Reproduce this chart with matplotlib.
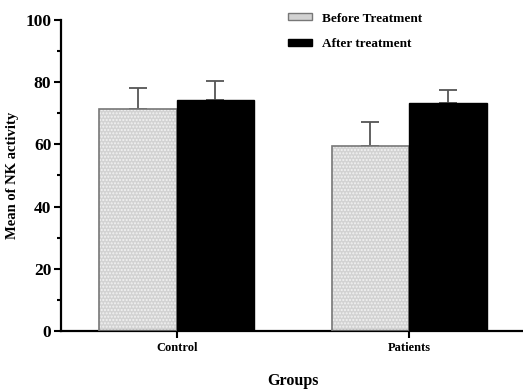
import matplotlib
matplotlib.use("Agg")
import matplotlib.pyplot as plt
import numpy as np
from matplotlib.ticker import MultipleLocator
from matplotlib.patches import Patch

groups = ["Control", "Patients"]
before_mean = [71.4, 59.6]
before_err = [6.6, 7.7]
after_mean = [74.4, 73.3]
after_err = [6.1, 4.3]
series_labels = ["Before Treatment", "After treatment"]

plt.rcParams['font.family'] = ['Liberation Serif', 'DejaVu Serif']
plt.rcParams['font.weight'] = 'bold'

fig = plt.figure(figsize=(5.23, 3.92), dpi=100)
ax = fig.add_axes([0.1166, 0.1556, 0.8834, 0.7934])

x = np.arange(len(groups))
w = 0.333
# before bars: fill + white dot texture, then outline
ax.bar(x - w/2, before_mean, w, color='#d2d2d2', hatch='.....', edgecolor='#f2f2f2', linewidth=0, zorder=2)
ax.bar(x - w/2, before_mean, w, facecolor='none', edgecolor='#777777', linewidth=1.2, zorder=3)
ax.bar(x + w/2, after_mean, w, color='black', edgecolor='black', linewidth=1.0, zorder=3)

ax.errorbar(x - w/2, before_mean, yerr=[np.zeros(2), before_err], fmt='none',
            ecolor='#555555', elinewidth=1.3, capsize=6.8, capthick=1.3, zorder=1)
ax.errorbar(x + w/2, after_mean, yerr=[np.zeros(2), after_err], fmt='none',
            ecolor='#555555', elinewidth=1.3, capsize=6.8, capthick=1.3, zorder=1)

ax.set_xlim(-0.498, 1.49)
ax.set_ylim(0, 100)
ax.yaxis.set_major_locator(MultipleLocator(20))
ax.yaxis.set_minor_locator(MultipleLocator(10))
ax.set_xticks(x)
ax.set_xticklabels(groups, fontsize=9, fontweight='bold')
for lab in ax.get_yticklabels():
    lab.set_fontsize(12.5)
    lab.set_fontweight('bold')
ax.tick_params(axis='y', which='major', length=5, width=1.5, pad=2, labelsize=12.5)
ax.tick_params(axis='y', which='minor', length=3, width=1.5)
ax.tick_params(axis='x', which='major', length=5, width=1.5, pad=3)

for s in ['top', 'right']:
    ax.spines[s].set_visible(False)
for s in ['left', 'bottom']:
    ax.spines[s].set_linewidth(1.6)

fig.text(13/523, 1 - 175/392, "Mean of NK activity", rotation=90, fontsize=10.5,
         fontweight='bold', ha='center', va='center')
fig.text(293/523, 1 - 381/392, "Groups", fontsize=11.5, fontweight='bold',
         ha='center', va='center')

handles = [Patch(facecolor='#d2d2d2', edgecolor='#777777', linewidth=1.0),
           Patch(facecolor='black', edgecolor='black')]
leg = ax.legend(handles, series_labels, loc='upper left', bbox_to_anchor=(0.466, 1.062),
                frameon=False, fontsize=9.5, handlelength=1.8, handleheight=0.45,
                labelspacing=1.0, handletextpad=0.75)
for t in leg.get_texts():
    t.set_fontweight('bold')

fig.savefig("out.png", dpi=100)
